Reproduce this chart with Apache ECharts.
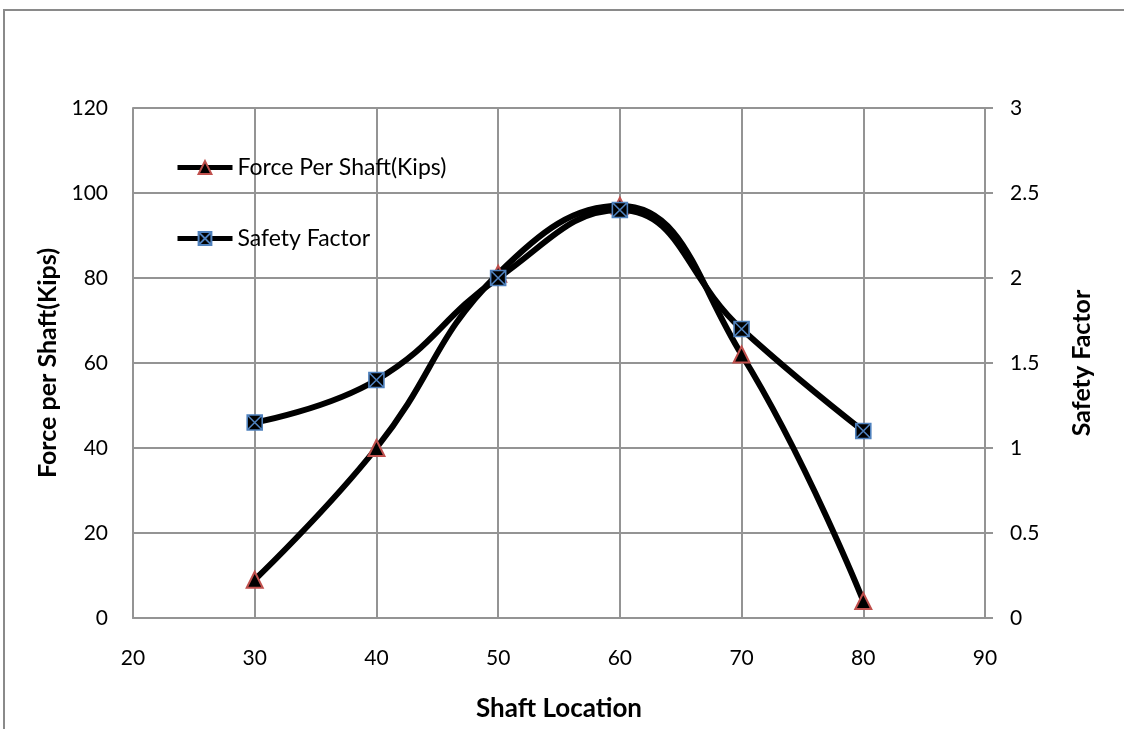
<!DOCTYPE html>
<html>
<head>
<meta charset="utf-8">
<title>Shaft Location</title>
<script src="https://cdn.jsdelivr.net/npm/echarts@6/dist/echarts.min.js"></script>
<style>
  html, body { margin: 0; padding: 0; background: #fff; }
  #chart { width: 1124px; height: 729px; }
</style>
</head>
<body>
<div id="chart"></div>
<script>
// Shaft locations along the wall
const shaftLocation = [30, 40, 50, 60, 70, 80];
// Force carried by each shaft (kips)
const forcePerShaft = [9, 40, 81, 97, 62, 4];
// Safety factor at each shaft
const safetyFactor = [1.15, 1.4, 2.0, 2.4, 1.7, 1.1];

const FONT = 'Lato, "Open Sans", sans-serif';
const GRID_COLOR = '#949494';
// filled square with a crossing X, stroked in blue
const CROSSED_SQUARE = 'path://M0,0H10V10H0Z M0,0L10,10 M10,0L0,10';

const forcePoints = shaftLocation.map((x, i) => [x, forcePerShaft[i]]);
const safetyPoints = shaftLocation.map((x, i) => [x, safetyFactor[i]]);

const chart = echarts.init(document.getElementById('chart'), null, { renderer: 'canvas' });

chart.setOption({
  backgroundColor: '#ffffff',
  animation: false,
  graphic: [{
    type: 'rect',
    shape: { x: 4, y: 10, width: 1300, height: 900 },
    style: { fill: 'none', stroke: '#8a8a8a', lineWidth: 2 },
    silent: true
  }],
  grid: { left: 133, right: 139, top: 108, bottom: 111, containLabel: false },
  legend: {
    data: ['Force Per Shaft(Kips)', 'Safety Factor'],
    orient: 'vertical',
    left: 170,
    top: 151,
    itemGap: 48,
    itemWidth: 55,
    itemHeight: 16,
    lineStyle: { width: 5 },
    textStyle: { fontFamily: FONT, fontSize: 23, color: '#000' }
  },
  xAxis: {
    type: 'value',
    min: 20, max: 90, interval: 10,
    name: 'Shaft Location',
    nameLocation: 'middle',
    nameGap: 78,
    nameTextStyle: { fontFamily: FONT, fontSize: 26, fontWeight: 'bold', color: '#000' },
    axisLine: { show: true, lineStyle: { color: GRID_COLOR, width: 2 } },
    axisTick: { show: false },
    axisLabel: { fontFamily: FONT, fontSize: 21, color: '#000', margin: 30 },
    splitLine: { show: true, lineStyle: { color: GRID_COLOR, width: 2 } }
  },
  yAxis: [{
    type: 'value',
    min: 0, max: 120, interval: 20,
    position: 'left',
    name: 'Force per Shaft(Kips)',
    nameLocation: 'middle',
    nameGap: 62,
    nameTextStyle: { fontFamily: FONT, fontSize: 25, fontWeight: 'bold', color: '#000' },
    axisLine: { show: true, lineStyle: { color: GRID_COLOR, width: 2 } },
    axisTick: { show: false },
    axisLabel: { fontFamily: FONT, fontSize: 21, color: '#000', margin: 25 },
    splitLine: { show: true, lineStyle: { color: GRID_COLOR, width: 2 } }
  }, {
    type: 'value',
    min: 0, max: 3, interval: 0.5,
    position: 'right',
    name: 'Safety Factor',
    nameLocation: 'middle',
    nameGap: 84,
    nameRotate: 90,
    nameTextStyle: { fontFamily: FONT, fontSize: 25, fontWeight: 'bold', color: '#000' },
    axisLine: { show: true, lineStyle: { color: GRID_COLOR, width: 2 } },
    axisTick: { show: true, inside: false, length: 8, lineStyle: { color: GRID_COLOR, width: 2 } },
    axisLabel: { fontFamily: FONT, fontSize: 21, color: '#000', margin: 25 },
    splitLine: { show: false }
  }],
  series: [{
    name: 'Force Per Shaft(Kips)',
    type: 'line',
    yAxisIndex: 0,
    data: forcePoints,
    smooth: 0.45,
    symbol: 'triangle',
    symbolSize: 16,
    lineStyle: { color: '#000', width: 6 },
    itemStyle: { color: '#000', borderColor: '#c0504d', borderWidth: 2 },
    z: 3
  }, {
    name: 'Safety Factor',
    type: 'line',
    yAxisIndex: 1,
    data: safetyPoints,
    smooth: 0.45,
    symbol: CROSSED_SQUARE,
    symbolSize: 15,
    lineStyle: { color: '#000', width: 6 },
    itemStyle: { color: '#000', borderColor: '#4f81bd', borderWidth: 1.6 },
    z: 4
  }]
});
</script>
</body>
</html>
